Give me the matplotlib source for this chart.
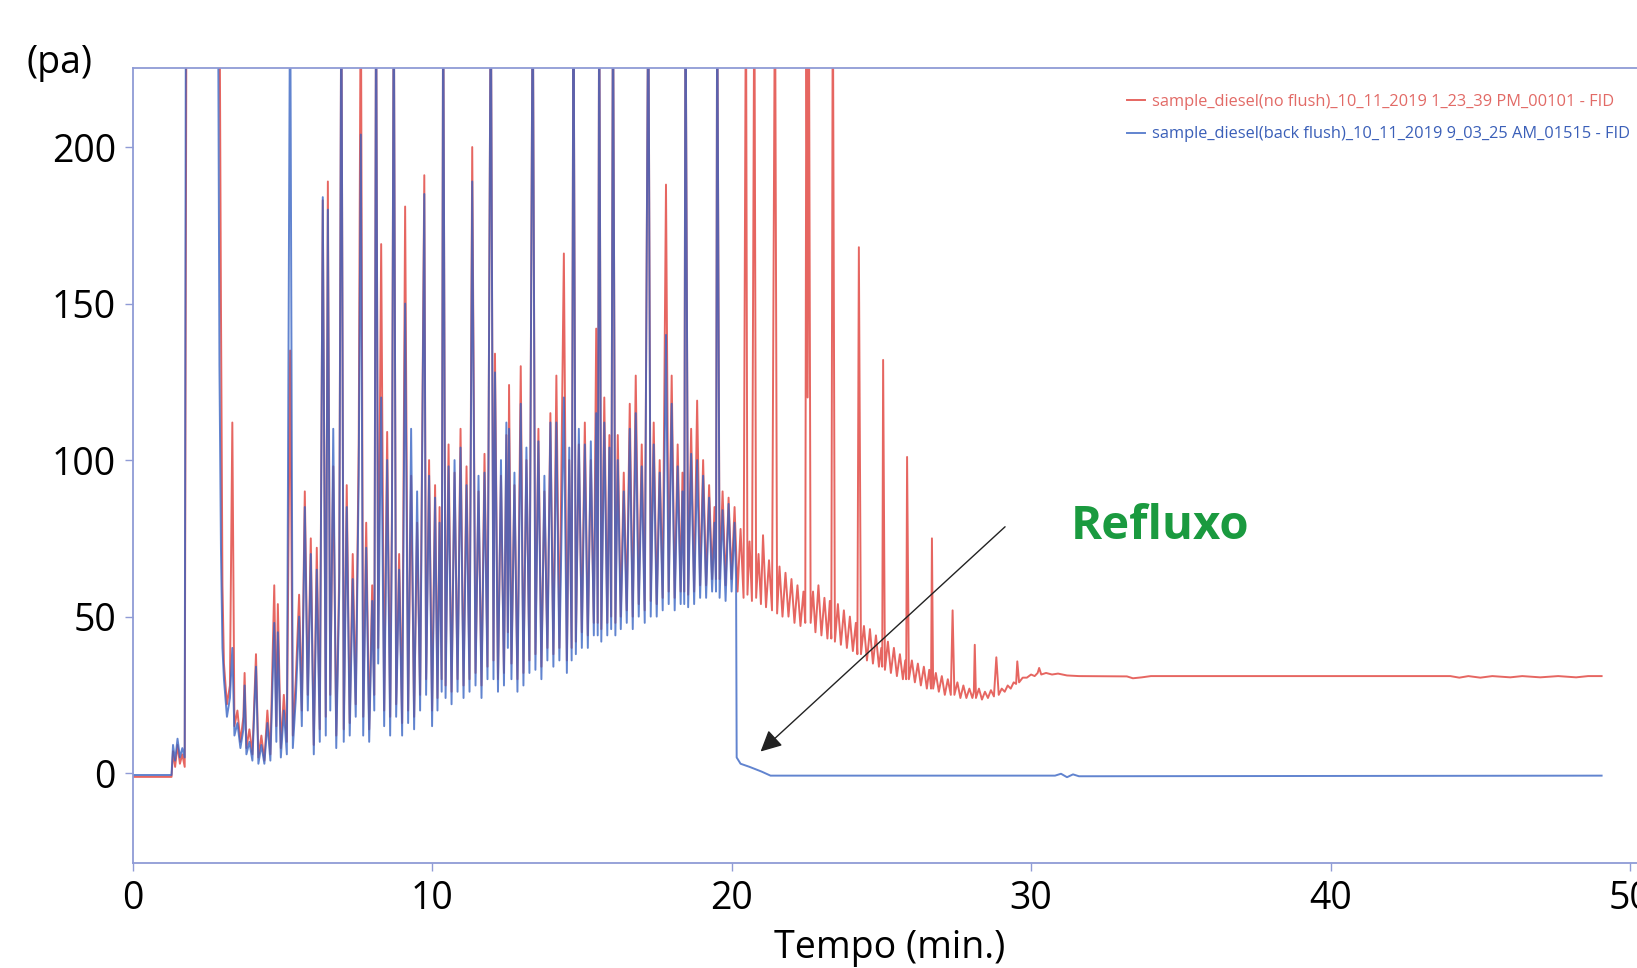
import numpy as np
import matplotlib
matplotlib.use("Agg")
import matplotlib.pyplot as plt

plt.rcParams['font.family'] = ['Open Sans', 'DejaVu Sans']

# ---- data (time in min, signal in pa) ----
red_head_t = [0.00, 1.30, 1.35, 1.42, 1.50, 1.58, 1.66, 1.74, 1.80, 2.90, 2.95, 3.00]
red_head_y = [-1.2, -1.2, 7, 2, 9, 3, 6, 2, 260, 260, 150, 60]

blue_head_t = [0.00, 1.30, 1.35, 1.42, 1.50, 1.58, 1.66, 1.74, 1.78, 2.85, 2.90, 2.95, 3.00]
blue_head_y = [-0.6, -0.6, 9, 4, 11, 5, 8, 5, 260, 260, 130, 72, 40]

# dense part, 3 - 20 min, same retention times for both runs
dense_t = [
    3.05, 3.15, 3.25, 3.33, 3.40, 3.50, 3.60, 3.70, 3.74, 3.80, 3.90, 4.00, 4.12, 4.20, 4.30, 4.40,
    4.50, 4.60, 4.73, 4.80, 4.85, 4.95, 5.05, 5.15, 5.26, 5.35, 5.45, 5.56, 5.65, 5.75, 5.85, 5.95,
    6.05, 6.15, 6.25, 6.35, 6.45, 6.52, 6.60, 6.70, 6.80, 6.90, 6.97,
    7.05, 7.15, 7.25, 7.35, 7.45, 7.55, 7.62, 7.70, 7.80, 7.90, 8.00,
    8.07, 8.13, 8.20, 8.30, 8.40, 8.50, 8.60, 8.66, 8.72, 8.80, 8.90, 9.00,
    9.10, 9.20, 9.30, 9.40, 9.50, 9.60, 9.74, 9.80, 9.90, 10.00,
    10.10, 10.18, 10.25, 10.32, 10.37, 10.45, 10.55, 10.65, 10.75, 10.85, 10.95,
    11.05, 11.15, 11.25, 11.34, 11.45, 11.55, 11.65, 11.75, 11.85, 11.96,
    12.05, 12.10, 12.20, 12.30, 12.40, 12.48, 12.53, 12.57, 12.65, 12.75, 12.85, 12.96,
    13.05, 13.15, 13.25, 13.36, 13.45, 13.55, 13.65, 13.75, 13.85, 13.95,
    14.05, 14.15, 14.25, 14.40, 14.50, 14.58, 14.66, 14.72, 14.80, 14.90, 15.00,
    15.10, 15.20, 15.30, 15.40, 15.48, 15.53, 15.58, 15.65, 15.75, 15.85, 15.92, 15.98, 16.04,
    16.12, 16.20, 16.30, 16.40, 16.50, 16.60, 16.70, 16.80, 16.90, 17.00, 17.10,
    17.22, 17.30, 17.40, 17.50, 17.60, 17.70, 17.81, 17.90, 18.00,
    18.10, 18.20, 18.30, 18.36, 18.42, 18.46, 18.55, 18.65, 18.75, 18.85, 18.95,
    19.05, 19.15, 19.25, 19.35, 19.43, 19.48, 19.52, 19.60, 19.70, 19.80, 19.90, 20.00, 20.10,
]
red_dense = [
    35, 22, 28, 112, 15, 20, 10, 18, 32, 8, 14, 6, 38, 5, 12, 4,
    20, 6, 60, 15, 54, 8, 25, 10, 135, 12, 30, 57, 20, 90, 25, 75,
    9, 72, 14, 183, 18, 189, 25, 98, 12, 64, 260,
    14, 92, 16, 70, 22, 105, 260, 18, 80, 14, 60,
    25, 260, 40, 169, 20, 109, 18, 85, 260, 22, 70, 16,
    181, 20, 95, 18, 80, 25, 191, 30, 100, 20,
    92, 24, 85, 30, 260, 28, 105, 26, 96, 30, 110,
    28, 98, 30, 200, 32, 90, 28, 102, 34, 260,
    36, 134, 30, 95, 32, 108, 45, 124, 35, 92, 30, 130,
    32, 100, 36, 260, 38, 110, 34, 90, 40, 115,
    38, 127, 40, 166, 36, 100, 40, 260, 42, 105, 45,
    112, 44, 100, 48, 142, 48, 260, 46, 120, 48, 108, 50, 260,
    48, 108, 50, 96, 52, 118, 50, 127, 54, 105, 52,
    260, 55, 112, 54, 100, 56, 188, 58, 127,
    56, 105, 58, 96, 58, 260, 57, 110, 58, 119, 60,
    100, 60, 92, 62, 85, 62, 260, 62, 90, 60, 88, 62, 85,
]
blue_dense = [
    30, 18, 24, 40, 12, 16, 8, 14, 28, 6, 10, 4, 34, 3, 9, 3,
    16, 4, 48, 10, 45, 5, 20, 6, 260, 8, 24, 50, 15, 85, 20, 70,
    6, 65, 10, 184, 12, 180, 20, 110, 8, 58, 260,
    10, 85, 12, 62, 18, 95, 204, 12, 72, 10, 55,
    20, 260, 35, 120, 15, 100, 12, 78, 260, 18, 65, 12,
    150, 16, 110, 14, 90, 20, 185, 25, 95, 15,
    88, 20, 80, 26, 260, 24, 98, 22, 100, 26, 104,
    24, 92, 26, 189, 28, 95, 24, 96, 30, 260,
    30, 128, 26, 100, 28, 112, 40, 110, 30, 96, 26, 118,
    28, 104, 32, 260, 33, 106, 30, 95, 36, 112,
    34, 112, 36, 120, 32, 104, 36, 260, 38, 110, 40,
    105, 40, 106, 44, 115, 44, 260, 42, 112, 44, 104, 46, 260,
    44, 100, 46, 90, 48, 110, 46, 115, 50, 98, 48,
    260, 50, 105, 50, 96, 52, 140, 54, 118,
    52, 98, 54, 90, 54, 260, 53, 102, 54, 100, 56,
    95, 56, 88, 58, 80, 58, 260, 56, 84, 55, 86, 58, 80,
]

# no flush run keeps eluting after 20 min
red_tail_t = [
    20.20, 20.30, 20.40, 20.48, 20.53, 20.60, 20.68, 20.76, 20.82, 20.90, 20.98,
    21.05, 21.15, 21.25, 21.35, 21.45, 21.52, 21.60, 21.70, 21.80, 21.90, 22.00,
    22.10, 22.20, 22.30, 22.40, 22.46, 22.50, 22.54, 22.58, 22.64, 22.72, 22.80, 22.90,
    23.00, 23.10, 23.20, 23.28, 23.33, 23.38, 23.45, 23.55, 23.65, 23.75, 23.85, 23.95,
    24.05, 24.15, 24.20, 24.25, 24.32, 24.42, 24.52, 24.62, 24.72, 24.82, 24.92,
    25.00, 25.03, 25.06, 25.12, 25.22, 25.32, 25.42, 25.52, 25.62, 25.72, 25.80, 25.83, 25.86, 25.92,
    26.02, 26.12, 26.22, 26.32, 26.42, 26.52, 26.60, 26.66, 26.69, 26.73, 26.82, 26.92,
    27.02, 27.12, 27.22, 27.32, 27.38, 27.44, 27.54, 27.64, 27.74, 27.84, 27.94,
    28.04, 28.09, 28.12, 28.16, 28.26, 28.36, 28.46, 28.56, 28.66, 28.76, 28.84, 28.92,
    29.02, 29.12, 29.22, 29.32, 29.42, 29.50, 29.54, 29.60, 29.72, 29.86,
    30.00, 30.12, 30.22, 30.27, 30.34, 30.50, 30.70, 30.90, 31.20,
    31.60, 33.20, 33.40, 33.70, 34.00, 44.00, 44.30, 44.60, 45.00, 45.40,
    46.00, 46.40, 47.00, 47.60, 48.20, 48.60, 49.05,
]
red_tail_y = [
    58, 78, 56, 260, 57, 74, 55, 260, 56, 70, 54,
    76, 53, 68, 52, 260, 51, 66, 50, 64, 50, 62,
    48, 60, 47, 58, 48, 260, 120, 260, 48, 58, 45, 60,
    44, 56, 43, 55, 43, 260, 42, 54, 41, 52, 40, 50,
    39, 48, 38, 168, 38, 47, 36, 46, 35, 44, 34,
    40, 34, 132, 33, 42, 32, 40, 31, 38, 30, 36, 30, 101, 30,
    36, 29, 35, 28, 34, 27, 33, 27, 75, 27, 32, 26,
    31, 25, 30, 25, 52, 25, 29, 24, 28, 24, 27,
    24, 26, 41, 24, 27, 23.5, 26, 24, 26.5, 24.5, 37, 25,
    27, 26, 28, 27, 29, 28.5, 35.7, 29, 30.5, 30.5,
    31.5, 31, 32, 33.6, 31.5, 32, 31.5, 31.8, 31.2,
    31, 30.9, 30.3, 30.6, 31, 31, 30.5, 31, 30.5, 31,
    30.6, 31, 30.6, 31, 30.6, 31, 31,
]

# back flush run drops to baseline at ~20 min
blue_tail_t = [20.15, 20.17, 20.30, 20.60, 21.00, 21.30, 30.80, 31.00, 31.20, 31.40, 31.60, 49.05]
blue_tail_y = [62, 5, 3, 2, 0.5, -0.8, -0.8, -0.2, -1.3, -0.4, -1.0, -0.8]

red_label = "sample_diesel(no flush)_10_11_2019 1_23_39 PM_00101 - FID"
blue_label = "sample_diesel(back flush)_10_11_2019 9_03_25 AM_01515 - FID"

red_t = np.concatenate([red_head_t, dense_t, red_tail_t])
red_y = np.concatenate([red_head_y, red_dense, red_tail_y])
blue_t = np.concatenate([blue_head_t, dense_t, blue_tail_t])
blue_y = np.concatenate([blue_head_y, blue_dense, blue_tail_y])

RED = "#e0403a"
BLUE = "#3561c2"
SPINE = "#8f9bd6"

fig = plt.figure(figsize=(16.37, 9.68), dpi=100)
ax = fig.add_axes([0.081, 0.1085, 0.925, 0.8214])

ax.plot(red_t, red_y, color=RED, lw=1.4, alpha=0.8, label=red_label)
ax.plot(blue_t, blue_y, color=BLUE, lw=1.4, alpha=0.78, label=blue_label)

ax.set_xlim(0, 50.56)
ax.set_ylim(-28.7, 225.3)
ax.set_xticks([0, 10, 20, 30, 40, 50])
ax.set_yticks([0, 50, 100, 150, 200])
ax.tick_params(axis="both", labelsize=27, color=SPINE, length=6, width=1, pad=6)
for side in ["top", "right", "bottom", "left"]:
    ax.spines[side].set_color(SPINE)
    ax.spines[side].set_linewidth(1.3)

ax.set_xlabel("Tempo (min.)", fontsize=27, labelpad=8)
fig.text(0.016, 0.935, "(pa)", fontsize=27, ha="left", va="center")

leg = ax.legend(loc="upper left", bbox_to_anchor=(0.657, 0.967), frameon=False,
                fontsize=11.8, handlelength=1.1, handletextpad=0.4, labelspacing=1.0,
                borderaxespad=0, borderpad=0)
leg.get_texts()[0].set_color("#e26a66")
leg.get_texts()[1].set_color("#3a5fb8")

ax.text(34.3, 78.7, "Refluxo", color="#1a9a3f", fontsize=34, fontweight="bold",
        ha="center", va="center")
ax.annotate("", xy=(20.9, 6.3), xytext=(29.2, 79.3),
            arrowprops=dict(arrowstyle="-|>", color="#222222", lw=1.0, mutation_scale=32))

fig.savefig("out.png", dpi=100)
